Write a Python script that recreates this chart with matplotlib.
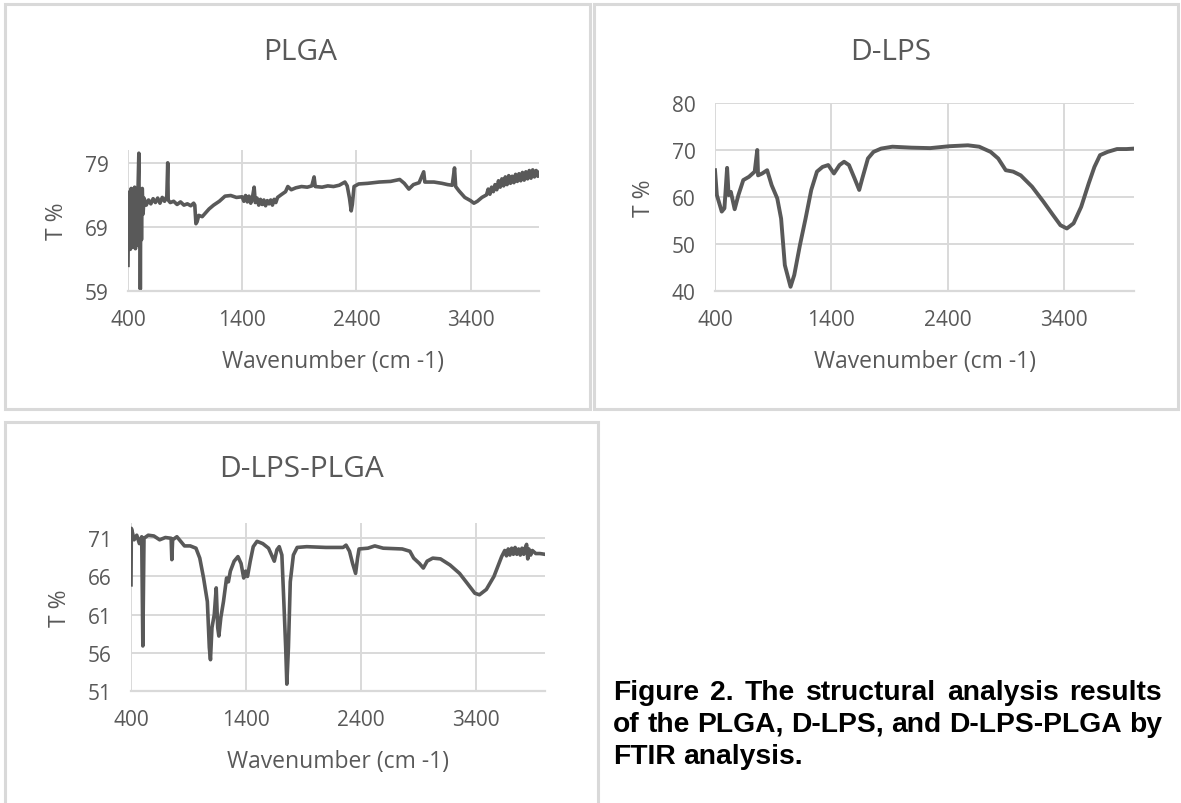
import numpy as np
import matplotlib
matplotlib.use("Agg")
import matplotlib.pyplot as plt
from matplotlib.patches import Rectangle

W, H = 1181, 804

# === data (wavenumber cm-1, transmittance %) ===
plga_x = [400, 405, 410, 415, 420, 428, 435, 442, 450, 458, 465, 472, 480, 488,
          495, 500, 505, 508, 512, 518, 525, 532, 540, 560, 580, 600, 620, 640,
          660, 680, 700, 720, 740, 748, 752, 770, 800, 830, 860, 890, 920, 950,
          975, 985, 995, 1005, 1020, 1050, 1080, 1110, 1150, 1200, 1250, 1300,
          1350, 1400, 1415, 1430, 1445, 1460, 1475, 1490, 1505, 1515, 1530, 1545,
          1560, 1575, 1590, 1605, 1620, 1635, 1650, 1665, 1680, 1695, 1710, 1740,
          1780, 1800, 1830, 1870, 1920, 1970, 2010, 2030, 2040, 2100,
          2150, 2200, 2250, 2300, 2320, 2340, 2355, 2365, 2380, 2420, 2500, 2600,
          2700, 2780, 2820, 2860, 2900, 2950, 2990, 3000, 3080, 3150, 3200, 3240,
          3260, 3270, 3300, 3350, 3400, 3430, 3460, 3500, 3540, 3555, 3570, 3585,
          3600, 3615, 3630, 3645, 3660, 3675, 3690, 3705, 3720, 3735, 3750, 3765,
          3780, 3795, 3810, 3825, 3840, 3855, 3870, 3885, 3900, 3915, 3930, 3945,
          3960, 3975, 3990, 4000]
plga_y = [63.0, 73.5, 66.0, 74.5, 65.5, 75.0, 65.8, 74.6, 66.0, 75.2, 65.6, 74.8, 66.2, 75.0,
          80.5, 66.0, 74.0, 59.3, 74.5, 67.0, 75.0, 71.0, 73.5, 72.4, 73.2, 72.6, 73.4, 72.8,
          73.5, 72.7, 73.6, 73.0, 73.8, 79.0, 73.2, 72.8, 73.0, 72.5, 72.9, 72.4, 72.6, 72.3,
          72.7, 72.4, 69.5, 69.8, 70.8, 70.6, 71.2, 71.8, 72.4, 73.0, 73.8, 73.9,
          73.6, 73.7, 73.0, 73.9, 72.9, 73.8, 72.7, 73.6, 75.2, 72.8, 73.5, 72.4,
          73.3, 72.5, 73.2, 72.3, 73.1, 72.6, 73.2, 72.4, 73.3, 72.8, 73.6, 74.0,
          74.5, 75.3, 74.8, 75.1, 75.3, 75.2, 75.4, 76.8, 75.3, 75.2,
          75.4, 75.3, 75.5, 76.0, 75.4, 73.5, 71.5, 72.5, 75.3, 75.7, 75.8, 76.0,
          76.1, 76.4, 75.8, 74.9, 75.6, 75.9, 77.6, 76.0, 76.0, 75.8, 75.6, 75.5,
          78.2, 75.3, 74.6, 73.6, 73.1, 72.7, 73.0, 73.6, 74.0, 74.9, 74.1, 75.2,
          74.5, 75.6, 74.8, 76.2, 75.2, 76.5, 75.4, 76.8, 75.6, 77.0, 75.8, 76.9,
          75.9, 77.2, 76.1, 77.3, 76.2, 77.5, 76.3, 77.6, 76.5, 77.8, 76.6, 77.9,
          76.8, 77.8, 76.9, 77.5]

dlps_x = [400, 416, 458, 481, 504, 517, 536, 569, 601, 643, 692, 741, 763, 770,
          805, 848, 887, 935, 968, 1000, 1049, 1081, 1130, 1178, 1227, 1276, 1324,
          1373, 1422, 1470, 1509, 1551, 1600, 1639, 1665, 1714, 1762, 1827, 1924,
          2087, 2249, 2411, 2573, 2670, 2768, 2833, 2898, 2962, 3027, 3124, 3222,
          3303, 3368, 3423, 3481, 3546, 3611, 3660, 3708, 3773, 3854, 3935, 4000]
dlps_y = [65.7, 60.4, 56.9, 57.6, 66.2, 60.4, 61.1, 57.4, 60.4, 63.6, 64.3, 65.4, 70.0, 64.6,
          65.0, 65.7, 62.5, 59.7, 55.4, 45.5, 40.9, 43.4, 49.8, 55.4, 61.5, 65.4, 66.4,
          66.8, 65.0, 66.8, 67.5, 66.8, 63.9, 61.5, 63.9, 68.2, 69.6, 70.3, 70.7,
          70.5, 70.4, 70.8, 71.0, 70.7, 69.6, 68.2, 65.7, 65.4, 64.6, 62.2, 59.0,
          56.2, 54.0, 53.3, 54.4, 57.9, 62.9, 66.4, 68.9, 69.6, 70.2, 70.2, 70.3]

mix_x = [400, 403, 407, 427, 450, 473, 493, 503, 513, 550, 599, 649, 699, 749,
         755, 762, 799, 832, 865, 915, 965, 998, 1031, 1064, 1081, 1091, 1104, 1124,
         1141, 1154, 1164, 1181, 1204, 1231, 1247, 1264, 1297, 1330, 1357, 1380,
         1397, 1413, 1437, 1463, 1496, 1546, 1596, 1646, 1669, 1689, 1712, 1729,
         1745, 1755, 1769, 1785, 1812, 1845, 1928, 2094, 2244, 2270, 2300, 2327,
         2353, 2370, 2383, 2460, 2520, 2593, 2759, 2825, 2858, 2908, 2942, 2975,
         3024, 3091, 3174, 3257, 3324, 3390, 3430, 3490, 3556, 3623, 3650, 3665,
         3680, 3695, 3710, 3725, 3740, 3755, 3770, 3785, 3800, 3815, 3830, 3840,
         3850, 3860, 3875, 3890, 3920, 3956, 4000]
mix_y = [64.9, 72.3, 72.1, 70.8, 71.4, 70.3, 71.2, 56.9, 71.0, 71.4, 71.3, 70.8, 71.1, 71.0,
         68.2, 70.8, 71.2, 70.6, 70.0, 70.0, 69.7, 68.4, 65.8, 62.7, 56.7, 55.1, 59.3, 61.0,
         64.5, 59.3, 58.2, 60.6, 62.7, 65.8, 65.3, 66.7, 68.0, 68.6, 67.7, 65.8,
         66.7, 66.0, 68.0, 69.9, 70.6, 70.3, 69.7, 68.0, 69.5, 69.9, 68.8, 62.7,
         56.7, 51.9, 56.7, 65.3, 68.8, 69.8, 69.9, 69.8, 69.8, 70.1, 69.3, 67.7,
         66.4, 68.4, 69.6, 69.7, 70.0, 69.7, 69.6, 69.3, 68.4, 67.7, 67.1, 68.0,
         68.4, 68.3, 67.5, 66.4, 65.1, 63.8, 63.6, 64.3, 66.0, 68.6, 69.4, 68.7,
         69.6, 68.8, 69.7, 68.9, 69.8, 68.9, 69.6, 68.8, 69.7, 68.9, 69.8, 70.2,
         68.3, 69.6, 68.8, 69.4, 69.0, 69.0, 68.9]

x_ticks = [400, 1400, 2400, 3400]
titles = ["PLGA", "D-LPS", "D-LPS-PLGA"]
y_ticks = [[59, 69, 79], [40, 50, 60, 70, 80], [51, 56, 61, 66, 71]]
y_limits = [(59, 81), (40, 80), (51, 73)]
x_label = "Wavenumber (cm -1)"
y_label = "T %"
caption = ["Figure 2. The structural analysis results",
           "of the PLGA, D-LPS, and D-LPS-PLGA by",
           "FTIR analysis."]

LINE = "#595959"
GRID = "#d9d9d9"
TEXT = "#595959"
FONT = ["Open Sans", "DejaVu Sans"]

plt.rcParams["font.family"] = FONT

fig = plt.figure(figsize=(W / 100, H / 100), dpi=100)


def fx(px):
    return px / W


def fy(py):
    return 1 - py / H


def panel_axes(left, top, right, bottom):
    return fig.add_axes([fx(left), fy(bottom), fx(right - left), (bottom - top) / H])


# panel frames (pixel boxes)
frames = [(5, 5, 590, 410), (594, 5, 1178, 410), (5, 423, 598, 812)]
for l, t, r, b in frames:
    fig.add_artist(Rectangle((fx(l), fy(b)), fx(r - l), (b - t) / H,
                             transform=fig.transFigure, fill=False,
                             edgecolor=GRID, lw=2.2))

# axes boxes in pixels: left, top, right, bottom
boxes = [(128, 151, 539, 292), (715, 104, 1134, 292), (131, 524, 545, 692)]
series = [(plga_x, plga_y), (dlps_x, dlps_y), (mix_x, mix_y)]
title_pos = [(300, 52), (891, 52), (302, 470)]
line_w = [2.6, 2.8, 2.6]

for i, (box, (xs, ys)) in enumerate(zip(boxes, series)):
    ax = panel_axes(*box)
    ax.plot(xs, ys, color=LINE, lw=line_w[i], solid_joinstyle="round")
    ax.set_xlim(400, 4000)
    ax.set_ylim(*y_limits[i])
    ax.set_xticks(x_ticks)
    ax.set_yticks(y_ticks[i])
    ax.grid(True, color=GRID, lw=1.4)
    ax.set_axisbelow(True)
    for s in ["top", "right", "left"]:
        ax.spines[s].set_visible(False)
    ax.spines["bottom"].set_color(GRID)
    ax.spines["bottom"].set_linewidth(1.6)
    ax.tick_params(length=0, labelsize=15, labelcolor=TEXT)
    ax.tick_params(axis="x", pad=13)
    ax.tick_params(axis="y", pad=14)

    l, t, r, b = box
    tx, ty = title_pos[i]
    fig.text(fx(tx), fy(ty), titles[i], ha="center", va="center",
             fontsize=21.5, color=TEXT)
    fig.text(fx((l + r) / 2), fy(b + 70), x_label, ha="center", va="center",
             fontsize=16.5, color=TEXT)
    fig.text(fx(l - 71), fy((t + b) / 2), y_label, ha="center", va="center",
             rotation=90, fontsize=16.5, color=TEXT)

# justified caption, bold Arial-like; size chosen so the first line fills the column
cap_left, cap_right = 613, 1162
cap_top, cap_step = 693, 32
renderer = fig.canvas.get_renderer()
probe = fig.text(0, 0, caption[0], fontsize=10, fontweight="bold",
                 family=["Liberation Sans", "DejaVu Sans"])
cap_size = 10 * 0.975 * (cap_right - cap_left) / probe.get_window_extent(renderer).width
probe.remove()

cap_kw = dict(fontsize=cap_size, fontweight="bold", color="black",
              family=["Liberation Sans", "DejaVu Sans"], va="center", ha="left")
for k, line in enumerate(caption):
    words = line.split()
    ypix = cap_top + k * cap_step
    items = [fig.text(0, fy(ypix), w, **cap_kw) for w in words]
    widths = [it.get_window_extent(renderer).width for it in items]
    if k < len(caption) - 1 and len(words) > 1:
        gap = (cap_right - cap_left - sum(widths)) / (len(words) - 1)
    else:
        sp = fig.text(0, 0, "a a", **cap_kw)
        sp2 = fig.text(0, 0, "aa", **cap_kw)
        gap = sp.get_window_extent(renderer).width - sp2.get_window_extent(renderer).width
        sp.remove()
        sp2.remove()
    xpos = cap_left
    for it, wd in zip(items, widths):
        it.set_x(fx(xpos))
        xpos += wd + gap

fig.savefig("out.png", dpi=100)
